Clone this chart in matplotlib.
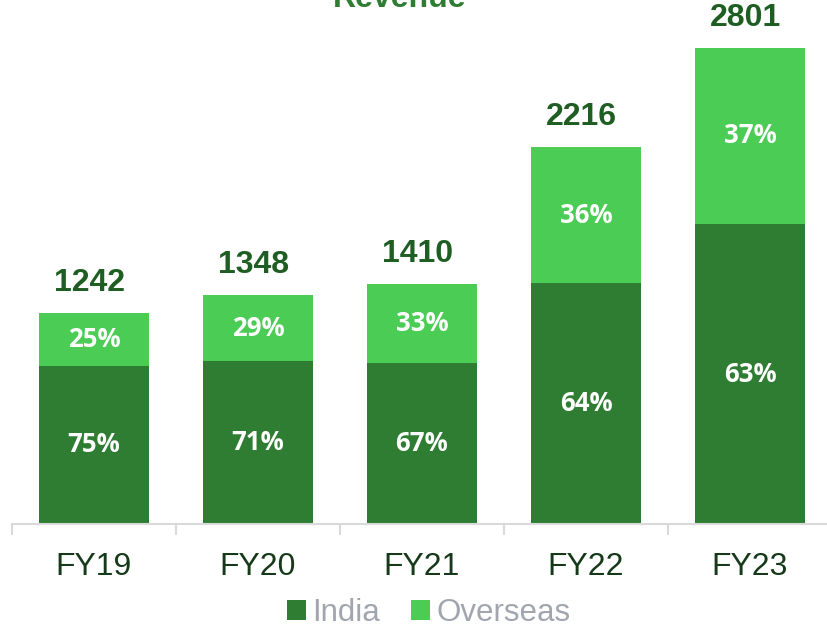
import matplotlib.pyplot as plt
import numpy as np

# data
years = ['FY19', 'FY20', 'FY21', 'FY22', 'FY23']
totals = [1242, 1348, 1410, 2216, 2801]
india_pct = [75, 71, 67, 64, 63]
overseas_pct = [25, 29, 33, 36, 37]

india_col = '#2f7d33'
overseas_col = '#4bcc55'

india = [t * p / 100 for t, p in zip(totals, india_pct)]
overseas = [t - i for t, i in zip(totals, india)]

fig = plt.figure(figsize=(8.28, 6.29), dpi=100)
ax = fig.add_axes([12 / 828, 1 - 524 / 629, 820 / 828, 510 / 629])

x = np.arange(len(years))
ax.bar(x, india, width=0.665, color=india_col, label='India')
ax.bar(x, overseas, width=0.665, bottom=india, color=overseas_col, label='Overseas')

# percent labels in the segments
for i in range(len(years)):
    ax.text(x[i], india[i] / 2, f'{india_pct[i]}%', ha='center', va='center',
            color='white', fontsize=18.5, fontweight='bold', family='Open Sans')
    ax.text(x[i], india[i] + overseas[i] / 2, f'{overseas_pct[i]}%', ha='center', va='center',
            color='white', fontsize=18.5, fontweight='bold', family='Open Sans')
    ax.annotate(str(totals[i]), (x[i], totals[i]), xytext=(-3, 11), textcoords='offset points',
                ha='center', va='bottom', fontsize=23, fontweight='bold',
                color='#1f5e23', family='Liberation Sans')

ax.set_xlim(-0.5, 4.5)
ax.set_ylim(0, 3000)
for s in ['top', 'left', 'right']:
    ax.spines[s].set_visible(False)
ax.spines['bottom'].set_color('#d9d9d9')
ax.spines['bottom'].set_linewidth(1.5)
ax.set_yticks([])
ax.set_xticks(x)
ax.set_xticklabels(years, fontsize=23, color='#163a19', family='Liberation Sans')
ax.tick_params(axis='x', which='major', length=0, pad=20)
ax.set_xticks(np.arange(-0.5, 5, 1), minor=True)
ax.tick_params(axis='x', which='minor', length=8, width=1.5, color='#d9d9d9')

fig.text(0.483, 1 - 7 / 629, 'Revenue', ha='center', va='baseline', fontsize=23,
         fontweight='bold', color='#2f7d33', family='Liberation Sans')

leg = fig.legend(loc='center', bbox_to_anchor=(0.518, 1 - 613 / 629), ncol=2, frameon=False,
                 handlelength=0.6, handleheight=0.6, handletextpad=0.2,
                 columnspacing=1.0, prop={'family': 'Liberation Sans', 'size': 22.5})
for t in leg.get_texts():
    t.set_color('#a0a5ae')

plt.savefig('out.png', dpi=100)
